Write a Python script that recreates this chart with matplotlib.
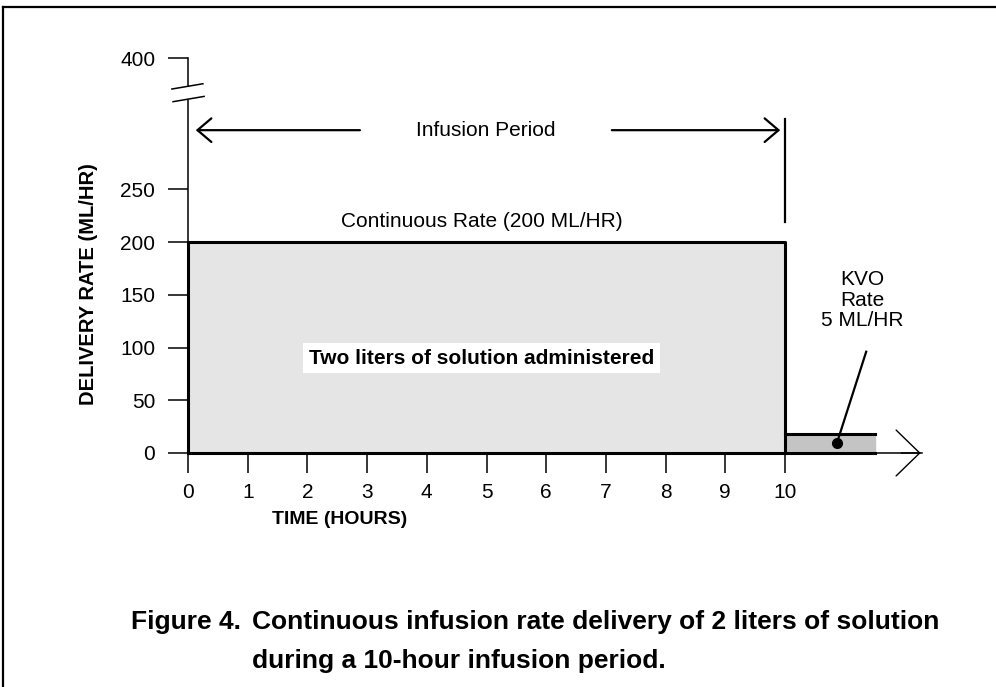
import matplotlib
matplotlib.use("Agg")
import matplotlib.pyplot as plt
from matplotlib.lines import Line2D

plt.rcParams['font.family'] = ['Liberation Sans', 'DejaVu Sans']

# data
hours = list(range(0, 11))
ytick_vals = [0, 50, 100, 150, 200, 250]
ytick_top_label = '400'
infusion_end = 10
continuous_rate = 200
kvo_end = 11.5
kvo_rate_drawn = 18

fig = plt.figure(figsize=(9.96, 6.87), dpi=100)
W, H = 996, 687

# axes placed so that x=0 -> 188px, x=10 -> 785px, y=0 -> 453px, y=200 -> 242px
px_x = 59.7
px_y = 1.055
xmax, ymax = 12.4, 380
ax = fig.add_axes([188 / W, (H - 453) / H, xmax * px_x / W, ymax * px_y / H])
ax.set_xlim(0, xmax)
ax.set_ylim(0, ymax)
ax.patch.set_alpha(0)

break_pos = 374  # where the broken-axis "400" sits
for s in ['top', 'right']:
    ax.spines[s].set_visible(False)
ax.spines['left'].set_bounds(0, 335)
ax.spines['bottom'].set_bounds(0, 12.3)
ax.spines['left'].set_linewidth(1.1)
ax.spines['bottom'].set_linewidth(1.1)

ax.set_xticks(hours)
ax.set_xticklabels([str(h) for h in hours])
ax.set_yticks(ytick_vals + [break_pos])
ax.set_yticklabels([str(v) for v in ytick_vals] + [ytick_top_label])
ax.tick_params(axis='both', direction='out', length=14.5, width=1.1, labelsize=15)
ax.tick_params(axis='y', pad=9)
ax.tick_params(axis='x', pad=7)

# upper piece of the broken y axis and break marks
ax.plot([0, 0], [348, break_pos], color='black', lw=1.1, clip_on=False)
ax.plot([-0.27, 0.25], [345, 350], color='black', lw=1.1, clip_on=False)
ax.plot([-0.25, 0.27], [333, 338], color='black', lw=1.1, clip_on=False)

# continuous infusion block
ax.fill_between([0, infusion_end], 0, continuous_rate, color='#e5e5e5', zorder=1)
ax.plot([0, 0, infusion_end, infusion_end], [0, continuous_rate, continuous_rate, 0],
        color='black', lw=2.2, zorder=3, clip_on=False)

# KVO block
ax.fill_between([infusion_end, kvo_end], 0, kvo_rate_drawn, color='#c4c4c4', zorder=1)
ax.plot([infusion_end, kvo_end], [kvo_rate_drawn, kvo_rate_drawn], color='black', lw=2.2, zorder=3)
ax.plot([0, kvo_end], [0, 0], color='black', lw=2.2, zorder=3, clip_on=False)

# x axis arrow head
ax.annotate('', xy=(12.32, 0), xytext=(11.9, 0),
            arrowprops=dict(arrowstyle='->,head_length=1.7,head_width=1.65',
                            mutation_scale=10, lw=1.0, color='black'),
            annotation_clip=False)

# infusion period marker
ax.plot([infusion_end, infusion_end], [219, 317], color='black', lw=1.6)
arr = dict(arrowstyle='->,head_length=1.0,head_width=0.85', mutation_scale=10,
           lw=1.6, color='black', shrinkA=0, shrinkB=0)
ax.annotate('', xy=(0.13, 306), xytext=(2.88, 306), arrowprops=arr)
ax.annotate('', xy=(9.92, 306), xytext=(7.1, 306), arrowprops=arr)
ax.text(4.98, 306, 'Infusion Period', ha='center', va='center', fontsize=15)

ax.text(4.92, 219, 'Continuous Rate (200 ML/HR)', ha='center', va='center', fontsize=15)
ax.text(4.92, 90, 'Two liters of solution administered', ha='center', va='center',
        fontsize=15, fontweight='bold', zorder=4,
        bbox=dict(facecolor='white', edgecolor='none', pad=4))

# KVO label and pointer
ax.text(11.3, 145, 'KVO\nRate\n5 ML/HR', ha='center', va='center', fontsize=15, linespacing=1.1)
ax.plot([11.36, 10.87], [96, 9.5], color='black', lw=1.6, zorder=4)
ax.plot([10.87], [9.5], 'o', color='black', markersize=7, zorder=5)

# axis titles
fig.text(88 / W, 1 - 284 / H, 'DELIVERY RATE (ML/HR)', rotation=90, ha='center', va='center',
         fontsize=14.5, fontweight='bold')
fig.text(340 / W, 1 - 519 / H, 'TIME (HOURS)', ha='center', va='center',
         fontsize=14, fontweight='bold')

# caption
fig.text(131 / W, 1 - 622 / H, 'Figure 4.', ha='left', va='center', fontsize=19, fontweight='bold')
fig.text(252 / W, 1 - 622 / H, 'Continuous infusion rate delivery of 2 liters of solution',
         ha='left', va='center', fontsize=19, fontweight='bold')
fig.text(252 / W, 1 - 661 / H, 'during a 10-hour infusion period.',
         ha='left', va='center', fontsize=19, fontweight='bold')

# page frame (top and left edges)
fig.add_artist(Line2D([3 / W, 1], [1 - 7 / H, 1 - 7 / H], color='black', lw=1.6))
fig.add_artist(Line2D([3 / W, 3 / W], [0, 1 - 7 / H], color='black', lw=1.6))

fig.savefig('out.png', dpi=100)
